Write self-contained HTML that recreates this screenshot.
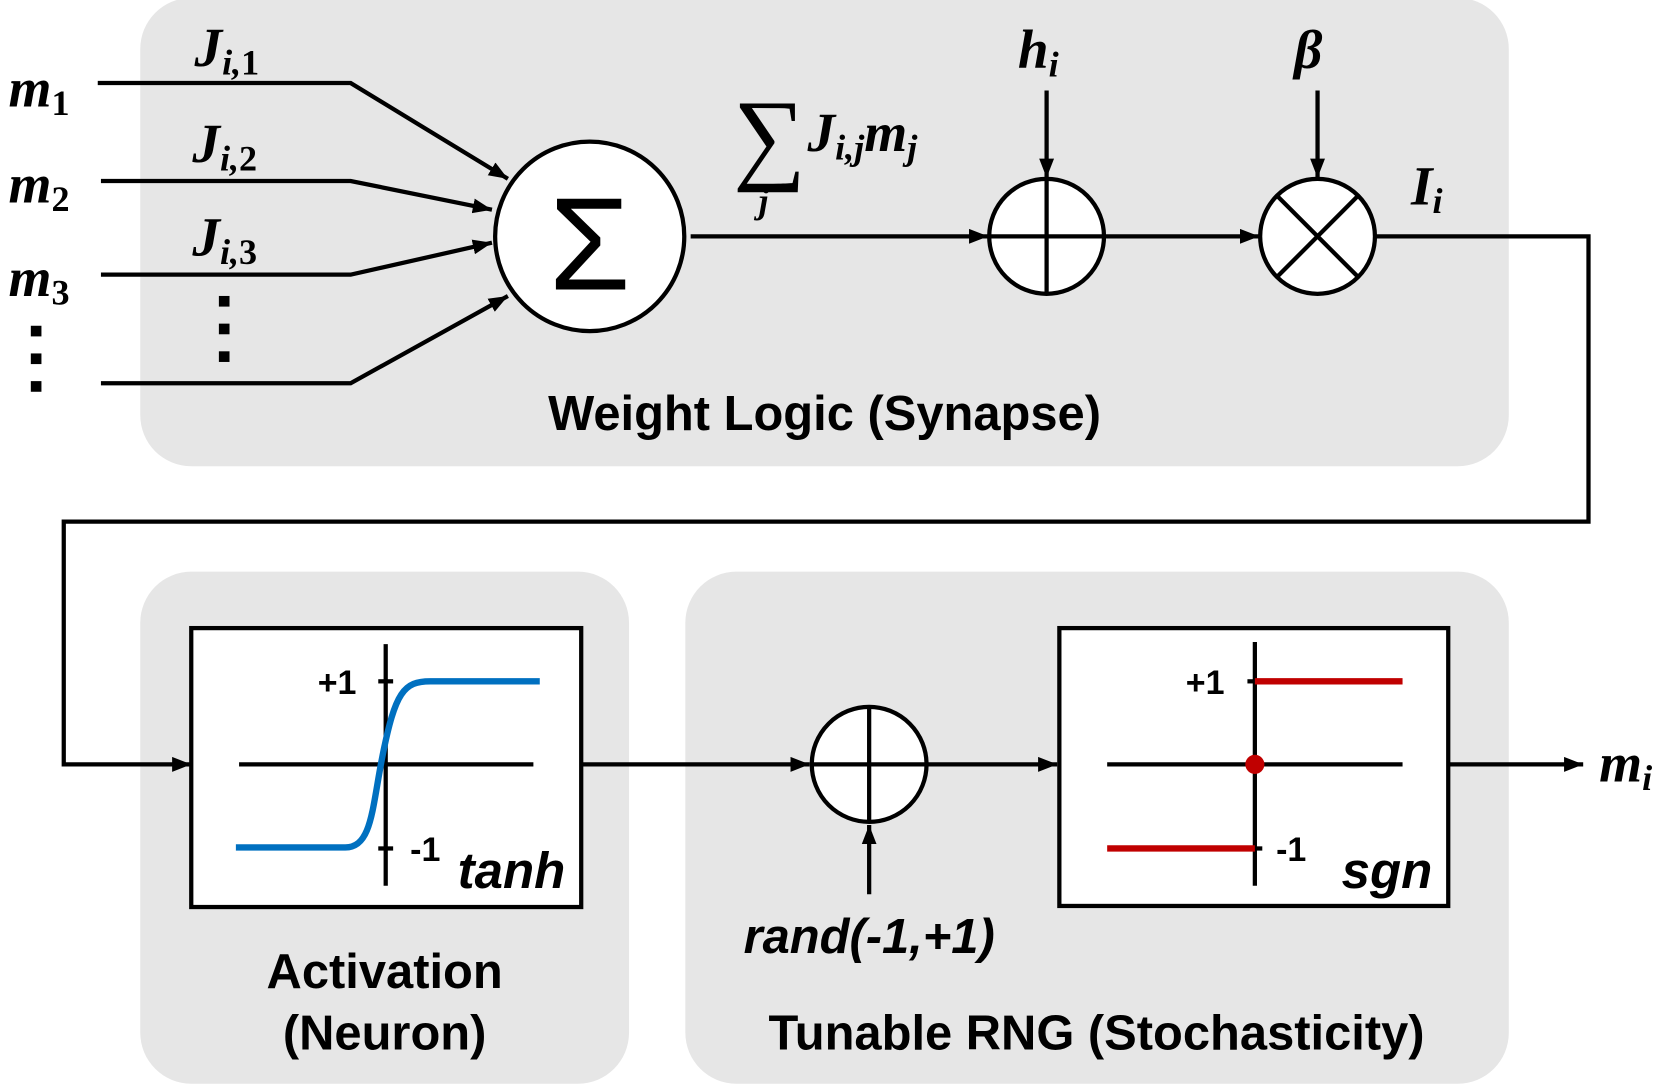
<!DOCTYPE html>
<html><head><meta charset="utf-8"><style>
html,body{margin:0;padding:0;background:#fff}
svg{display:block}
.m{font-family:"Liberation Serif",serif;font-style:italic;font-weight:bold}
.s{font-family:"Liberation Sans",sans-serif;font-weight:bold}
</style></head><body>
<svg width="1665" height="1088" viewBox="0 0 1567 1022" preserveAspectRatio="none" xmlns="http://www.w3.org/2000/svg">
<defs>
<marker id="b" viewBox="0 0 10 10" refX="10" refY="5" markerWidth="18" markerHeight="14" orient="auto" markerUnits="userSpaceOnUse" preserveAspectRatio="none"><path d="M0,0 L10,5 L0,10 Z" fill="#000"/></marker></defs>
<rect x="132" y="-2" width="1288" height="440" rx="48" fill="#e6e6e6"/>
<rect x="132" y="537" width="460" height="481" rx="48" fill="#e6e6e6"/>
<rect x="645" y="537" width="775" height="481" rx="48" fill="#e6e6e6"/>
<g stroke="#000" stroke-width="4" fill="none">
<polyline points="92,78 330,78 478,168" marker-end="url(#b)"/>
<polyline points="95,170 330,170 463,197" marker-end="url(#b)"/>
<polyline points="95,258 330,258 463,228" marker-end="url(#b)"/>
<polyline points="95,360 330,360 478,278" marker-end="url(#b)"/>
<circle cx="555" cy="222" r="89" fill="#fff"/>
<line x1="650" y1="222" x2="930" y2="222" marker-end="url(#b)"/>
<circle cx="985" cy="222" r="54" fill="#fff"/>
<line x1="985" y1="168" x2="985" y2="276"/><line x1="931" y1="222" x2="1039" y2="222"/>
<line x1="1040" y1="222" x2="1185" y2="222" marker-end="url(#b)"/>
<circle cx="1240" cy="222" r="54" fill="#fff"/>
<line x1="1202" y1="184" x2="1278" y2="260"/><line x1="1278" y1="184" x2="1202" y2="260"/>
<line x1="985" y1="85" x2="985" y2="167" marker-end="url(#b)"/>
<line x1="1240" y1="85" x2="1240" y2="167" marker-end="url(#b)"/>
<polyline points="1295,222 1495,222 1495,490 60,490 60,718 180,718" marker-end="url(#b)"/>
<rect x="180" y="590" width="367" height="262" fill="#fff"/>
<line x1="363" y1="605" x2="363" y2="832"/><line x1="225" y1="718" x2="502" y2="718"/>
<line x1="356" y1="640" x2="370" y2="640"/><line x1="356" y1="797" x2="370" y2="797"/>
<path d="M222,796 L325,796 C350,796 350,760 360,710 C372,650 380,640 405,640 L508,640" stroke="#0070c0" stroke-width="6"/>
<line x1="547" y1="718" x2="762" y2="718" marker-end="url(#b)"/>
<circle cx="818" cy="718" r="54" fill="#fff"/>
<line x1="818" y1="664" x2="818" y2="772"/><line x1="764" y1="718" x2="872" y2="718"/>
<line x1="818" y1="840" x2="818" y2="775" marker-end="url(#b)"/>
<line x1="873" y1="718" x2="995" y2="718" marker-end="url(#b)"/>
<rect x="997" y="590" width="366" height="261" fill="#fff"/>
<line x1="1181" y1="603" x2="1181" y2="832"/><line x1="1042" y1="718" x2="1320" y2="718"/>
<line x1="1174" y1="640" x2="1188" y2="640"/><line x1="1174" y1="797" x2="1188" y2="797"/>
<line x1="1181" y1="640" x2="1320" y2="640" stroke="#c00000" stroke-width="6"/>
<line x1="1042" y1="797" x2="1181" y2="797" stroke="#c00000" stroke-width="6"/>
<line x1="1363" y1="718" x2="1490" y2="718" marker-end="url(#b)"/>
</g>
<circle cx="1181" cy="718" r="9" fill="#c00000"/>
<g fill="#000"><rect x="29" y="306" width="10" height="10"/><rect x="29" y="332" width="10" height="10"/><rect x="29" y="358" width="10" height="10"/>
<rect x="206" y="278" width="10" height="10"/><rect x="206" y="304" width="10" height="10"/><rect x="206" y="330" width="10" height="10"/></g>
<text x="555" y="272" font-family="Liberation Sans,sans-serif" font-size="124" text-anchor="middle">Σ</text>
<g class="m" font-size="52">
<text x="8" y="100">m<tspan font-size="34" dy="8" font-style="normal">1</tspan></text>
<text x="8" y="190">m<tspan font-size="34" dy="8" font-style="normal">2</tspan></text>
<text x="8" y="278">m<tspan font-size="34" dy="8" font-style="normal">3</tspan></text>
<text x="183" y="62">J<tspan font-size="34" dy="8">i,</tspan><tspan font-size="34" font-style="normal">1</tspan></text>
<text x="181" y="152">J<tspan font-size="34" dy="8">i,</tspan><tspan font-size="34" font-style="normal">2</tspan></text>
<text x="181" y="240">J<tspan font-size="34" dy="8">i,</tspan><tspan font-size="34" font-style="normal">3</tspan></text>
<text x="690" y="160" font-size="96" font-style="normal" font-weight="normal">∑</text>
<text x="714" y="200" font-size="34">j</text>
<text x="760" y="142">J<tspan font-size="34" dy="8">i,j</tspan><tspan dy="-8">m</tspan><tspan font-size="34" dy="8">j</tspan></text>
<text x="958" y="64">h<tspan font-size="34" dy="8">i</tspan></text>
<text x="1218" y="64">β</text>
<text x="1328" y="192">I<tspan font-size="34" dy="8">i</tspan></text>
<text x="1505" y="734">m<tspan font-size="34" dy="8">i</tspan></text>
</g>
<g class="s" font-size="46">
<text x="776" y="404" text-anchor="middle">Weight Logic (Synapse)</text>
<text x="362" y="928" text-anchor="middle">Activation</text>
<text x="362" y="986" text-anchor="middle">(Neuron)</text>
<text x="1032" y="986" text-anchor="middle">Tunable RNG (Stochasticity)</text>
<text x="818" y="895" text-anchor="middle" font-style="italic">rand(-1,+1)</text>
<text x="532" y="834" text-anchor="end" font-style="italic" font-size="48">tanh</text>
<text x="1348" y="834" text-anchor="end" font-style="italic" font-size="48">sgn</text>
<g font-size="32" font-weight="bold"><text x="299" y="652">+1</text><text x="386" y="809">-1</text>
<text x="1116" y="652">+1</text><text x="1201" y="809">-1</text></g>
</g>
</svg>
</body></html>
